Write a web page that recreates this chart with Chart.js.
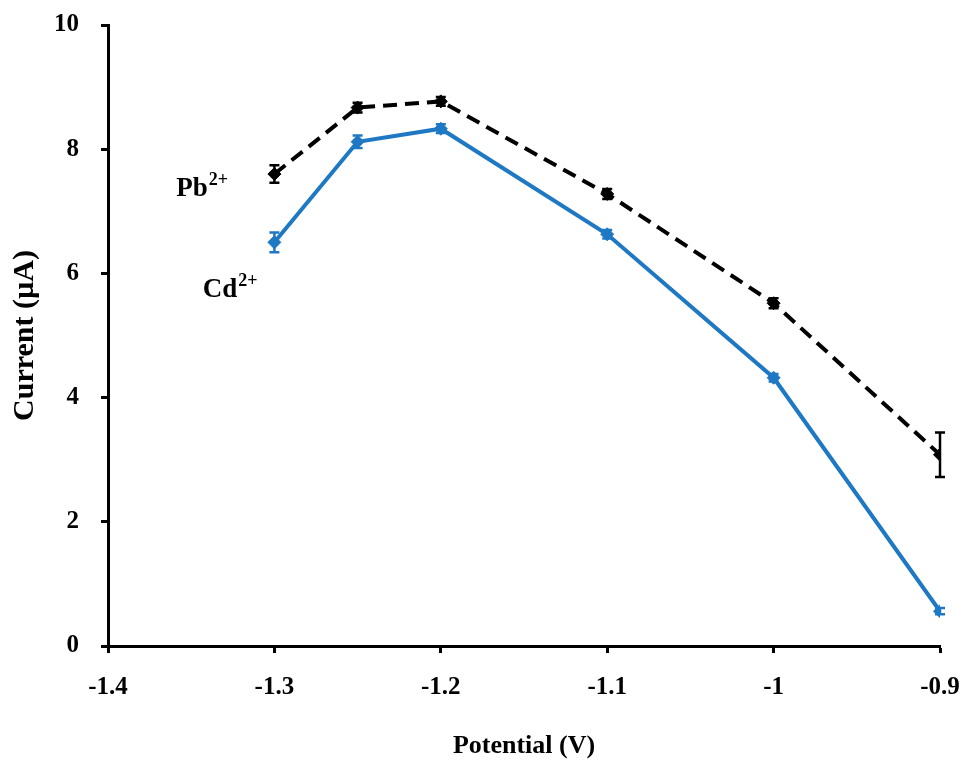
<!DOCTYPE html>
<html>
<head>
<meta charset="utf-8">
<script src="https://cdn.jsdelivr.net/npm/chart.js@4/dist/chart.umd.min.js"></script>
<style>
  html, body { margin: 0; padding: 0; background: #fff; }
  #wrap { width: 964px; height: 762px; position: relative; }
</style>
</head>
<body>
<div id="wrap"><canvas id="c"></canvas></div>
<script>
// Deposition potential (V)
const potentials = [-1.3, -1.25, -1.2, -1.1, -1.0, -0.9];
// Stripping peak current (µA) with standard deviations
const pbCurrent = [7.6, 8.67, 8.77, 7.28, 5.52, 3.08];
const pbError   = [0.14, 0.08, 0.07, 0.08, 0.08, 0.36];
const cdCurrent = [6.5, 8.12, 8.33, 6.63, 4.32, 0.56];
const cdError   = [0.16, 0.10, 0.07, 0.07, 0.06, 0.05];
// Axis ticks
const xTickValues = [-1.4, -1.3, -1.2, -1.1, -1.0, -0.9];
const xTickLabels = ['-1.4', '-1.3', '-1.2', '-1.1', '-1', '-0.9'];
const yTickValues = [0, 2, 4, 6, 8, 10];
const yTickLabels = ['0', '2', '4', '6', '8', '10'];
// Series names with charge superscripts, anchored in data units
const seriesNames = ['Pb', 'Cd'];
const seriesCharges = ['2+', '2+'];
const nameX = [-1.359, -1.343];
const nameY = [7.25, 5.62];

const FONT = '"Liberation Serif", "Times New Roman", serif';
const BLUE = '#1f78c4';

function toPoints(xs, ys) {
  return xs.map((x, i) => ({ x: x, y: ys[i] }));
}

// Vertical error bars with caps, placed through the chart scales
const errorBars = {
  id: 'errorBars',
  afterDatasetsDraw(chart) {
    const ctx = chart.ctx;
    const xs = chart.scales.x, ys = chart.scales.y;
    chart.data.datasets.forEach((ds) => {
      const errs = ds.errors;
      ctx.save();
      ctx.strokeStyle = ds.borderColor;
      ctx.lineWidth = 2.5;
      ds.data.forEach((p, i) => {
        const px = xs.getPixelForValue(p.x);
        const top = ys.getPixelForValue(p.y + errs[i]);
        const bot = ys.getPixelForValue(p.y - errs[i]);
        ctx.beginPath();
        ctx.moveTo(px, top); ctx.lineTo(px, bot);
        ctx.moveTo(px - 5, top); ctx.lineTo(px + 5, top);
        ctx.moveTo(px - 5, bot); ctx.lineTo(px + 5, bot);
        ctx.stroke();
      });
      ctx.restore();
    });
  }
};

// Ion labels next to the first points
const ionLabels = {
  id: 'ionLabels',
  afterDraw(chart) {
    const ctx = chart.ctx;
    const xs = chart.scales.x, ys = chart.scales.y;
    ctx.save();
    ctx.fillStyle = '#000';
    ctx.textBaseline = 'alphabetic';
    ctx.textAlign = 'left';
    seriesNames.forEach((name, i) => {
      const px = xs.getPixelForValue(nameX[i]);
      const py = ys.getPixelForValue(nameY[i]);
      ctx.font = 'bold 27px ' + FONT;
      ctx.fillText(name, px, py);
      const w = ctx.measureText(name).width;
      ctx.font = 'bold 18px ' + FONT;
      ctx.fillText(seriesCharges[i], px + w + 1, py - 11);
    });
    ctx.restore();
  }
};

new Chart(document.getElementById('c'), {
  type: 'scatter',
  data: {
    datasets: [
      {
        label: 'Pb2+',
        data: toPoints(potentials, pbCurrent),
        errors: pbError,
        showLine: true,
        borderColor: '#000',
        backgroundColor: '#000',
        borderWidth: 4,
        borderDash: [14, 8],
        pointStyle: 'rectRot',
        pointRadius: 6.5,
        pointBorderWidth: 1,
        tension: 0
      },
      {
        label: 'Cd2+',
        data: toPoints(potentials, cdCurrent),
        errors: cdError,
        showLine: true,
        borderColor: BLUE,
        backgroundColor: BLUE,
        borderWidth: 4,
        pointStyle: 'rectRot',
        pointRadius: 6.5,
        pointBorderWidth: 1,
        tension: 0
      }
    ]
  },
  options: {
    responsive: true,
    maintainAspectRatio: false,
    animation: false,
    layout: { padding: { top: 25, right: 24, left: 0, bottom: 0 } },
    plugins: {
      legend: { display: false },
      tooltip: { enabled: false }
    },
    scales: {
      x: {
        type: 'linear',
        min: -1.4,
        max: -0.9,
        afterBuildTicks(scale) {
          scale.ticks = xTickValues.map(v => ({ value: v }));
        },
        afterFit(scale) {
          scale.height = 116;
          scale.paddingLeft = 0;
          scale.paddingRight = 0;
        },
        grid: {
          display: true,
          drawOnChartArea: false,
          drawTicks: true,
          tickLength: 7,
          tickWidth: 3,
          tickColor: '#000',
          color: '#000'
        },
        border: { display: true, color: '#000', width: 3 },
        ticks: {
          color: '#000',
          padding: 20,
          font: { family: FONT, size: 25, weight: 'bold' },
          callback(value) {
            const i = xTickValues.findIndex(v => Math.abs(v - value) < 1e-6);
            return i >= 0 ? xTickLabels[i] : '';
          },
          maxRotation: 0
        },
        title: {
          display: true,
          text: 'Potential (V)',
          color: '#000',
          font: { family: FONT, size: 26, weight: 'bold' },
          padding: { top: 20, bottom: 0 }
        }
      },
      y: {
        type: 'linear',
        min: 0,
        max: 10,
        afterBuildTicks(scale) {
          scale.ticks = yTickValues.map(v => ({ value: v }));
        },
        afterFit(scale) {
          scale.width = 108;
          scale.paddingTop = 0;
          scale.paddingBottom = 0;
        },
        grid: {
          display: true,
          drawOnChartArea: false,
          drawTicks: true,
          tickLength: 7,
          tickWidth: 3,
          tickColor: '#000',
          color: '#000'
        },
        border: { display: true, color: '#000', width: 3 },
        ticks: {
          color: '#000',
          padding: 22,
          font: { family: FONT, size: 25, weight: 'bold' },
          callback(value) {
            const i = yTickValues.indexOf(value);
            return i >= 0 ? yTickLabels[i] : '';
          }
        },
        title: {
          display: true,
          text: 'Current (µA)',
          color: '#000',
          font: { family: FONT, size: 30, weight: 'bold' },
          padding: { top: 7, bottom: 0 }
        }
      }
    }
  },
  plugins: [errorBars, ionLabels]
});
</script>
</body>
</html>
